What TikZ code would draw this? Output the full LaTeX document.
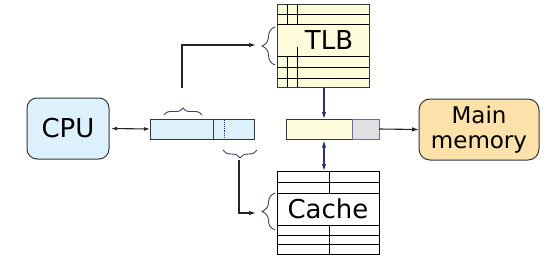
\documentclass[tikz,border=0pt]{standalone}
\usepackage{fontspec}
\setmainfont{DejaVu Sans}
\usetikzlibrary{decorations.pathreplacing,arrows.meta}
\definecolor{cpublue}{HTML}{DDF1FC}
\definecolor{cream}{HTML}{FFFCDC}
\definecolor{memor}{HTML}{FCE1AA}
\definecolor{graybox}{HTML}{E0E0E2}
\definecolor{navy}{HTML}{2B2F7A}
\definecolor{edge}{HTML}{303838}
\definecolor{bracec}{HTML}{3A4060}
\begin{document}
\begin{tikzpicture}[x=1pt,y=-1pt,
  box/.style={draw=edge, line width=1pt, inner sep=0pt, outer sep=0pt},
  bigtxt/.style={font=\fontsize{26}{30}\selectfont, inner sep=0pt},
  grid/.style={draw=black, line width=1pt},
  conn/.style={draw=black!85, line width=1.1pt, -{Latex[length=7pt,width=4.5pt]}},
  navyarrow/.style={draw=navy, line width=1.1pt, -{Latex[length=7pt,width=4.5pt]}},
  bracedeco/.style={draw=bracec, line width=0.9pt, decorate, decoration={brace, amplitude=#1}}]
\useasboundingbox (0,0) rectangle (554,262);

% CPU
\node[box, rounded corners=10pt, fill=cpublue, minimum width=82pt, minimum height=61pt, bigtxt] (cpu) at (68,128.5) {CPU};

% virtual address bar
\node[box, fill=cpublue, minimum width=63pt, minimum height=20pt] (vaL) at (181.5,129) {};
\node[box, fill=cpublue, minimum width=41pt, minimum height=20pt] (vaR) at (233.5,129) {};
\draw[navy, densely dotted, line width=0.9pt] (224,120) -- (224,138);

% TLB
\node[box, fill=cream, minimum width=92pt, minimum height=82pt] (tlb) at (323,46) {};
\foreach \yy in {15,25,57,68,78} \draw[grid] (277,\yy) -- (369,\yy);
\draw[grid] (287,5) -- (287,25) (287,57) -- (287,87);
\draw[grid] (297,5) -- (297,25) (297,47) -- (297,87);
\node[bigtxt] (tlbt) at (329,40) {TLB};

% physical address bar
\node[box, fill=cream, minimum width=66pt, minimum height=20pt] (paL) at (319,129) {};
\node[box, draw=navy!70, fill=graybox, minimum width=27pt, minimum height=20pt] (paR) at (365.5,129) {};

% Cache
\node[box, draw=black, fill=white, minimum width=102pt, minimum height=83pt] (cache) at (328,212.5) {};
\foreach \yy in {182,193,225,235,244} \draw[grid] (277,\yy) -- (379,\yy);
\draw[grid] (329,171) -- (329,193) (329,225) -- (329,254);
\node[bigtxt] (cachet) at (328,209) {Cache};

% Main memory
\node[box, rounded corners=11pt, fill=memor, minimum width=120pt, minimum height=61pt, align=center, font=\fontsize{23}{25}\selectfont] (mem) at (479,129.5) {Main\\memory};

% braces
\coordinate (b1a) at (164,115); \coordinate (b1b) at (202,115);
\draw[bracedeco=7pt] (b1a) -- (b1b);
\coordinate (b2a) at (257,150); \coordinate (b2b) at (223,150);
\draw[bracedeco=8pt] (b2a) -- (b2b);
\coordinate (b3a) at (275,65); \coordinate (b3b) at (275,27);
\draw[bracedeco=13pt] (b3a) -- (b3b);
\coordinate (b4a) at (275,230); \coordinate (b4b) at (275,193);
\draw[bracedeco=13pt] (b4a) -- (b4b);

% connectors
\coordinate (u0) at (182,88);
\coordinate (u1) at (256,45);
\draw[conn] (u0) |- (u1);
\coordinate (d0) at (239,160);
\coordinate (d1) at (256,213);
\draw[conn] (d0) |- (d1);
\draw[conn, {Latex[length=6pt,width=4pt]}-{Latex[length=6pt,width=4pt]}, shorten <=2pt] (cpu.east) -- (vaL.west);
\draw[conn] (paR.east) -- (mem.west);
\draw[navyarrow] (tlb.south -| paL.center) ++(5,0) coordinate (t0) -- (t0 |- paL.north);
\draw[navyarrow, {Latex[length=7pt,width=4.5pt]}-{Latex[length=7pt,width=4.5pt]}] (paL.south) ++(5,1.5) coordinate (c0) -- (c0 |- cache.north);
\end{tikzpicture}
\end{document}
